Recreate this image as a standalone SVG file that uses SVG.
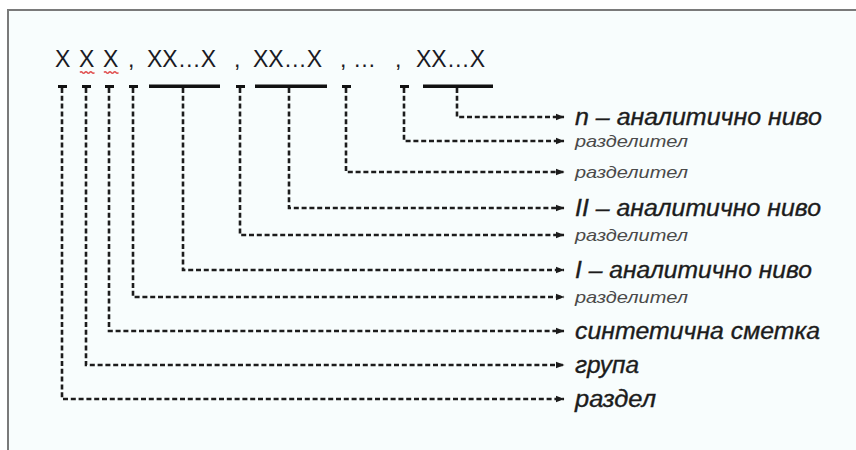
<svg xmlns="http://www.w3.org/2000/svg" width="856" height="450" viewBox="0 0 856 450">
  <defs>
    <marker id="arrow" markerUnits="userSpaceOnUse" markerWidth="10" markerHeight="9" refX="8.5" refY="4.5" orient="auto">
      <path d="M0,1 L9,4.5 L0,8 Z" fill="#1c1c1c"/>
    </marker>
    <style>
      .code { font-family: "Liberation Sans", Arial, sans-serif; font-size: 23px; fill: #1a1a24; }
      .bar { fill: #111; }
      .link { fill: none; stroke: #1c1c1c; stroke-width: 2.6; stroke-dasharray: 5 2.8; marker-end: url(#arrow); }
      .lvl { font-family: "Liberation Sans", Arial, sans-serif; font-style: italic; font-size: 23px; fill: #1c1c1c; stroke: #1c1c1c; stroke-width: 0.35; }
      .sep { font-family: "Liberation Sans", Arial, sans-serif; font-style: italic; font-size: 17px; fill: #4a4a4a; }
      .squiggle { fill: none; stroke: #e05050; stroke-width: 1.5; }
    </style>
  </defs>

  <!-- page and frame -->
  <rect x="0" y="0" width="856" height="450" fill="#ffffff"/>
  <rect x="8" y="10" width="848" height="440" fill="#f8fdfd"/>
  <path d="M8,450 V10 H856" fill="none" stroke="#7a7a7a" stroke-width="2"/>

  <!-- account code string -->
  <g id="code">
    <text class="code" x="55" y="67">X</text>
    <text class="code" x="79" y="67">X</text>
    <text class="code" x="103" y="67">X</text>
    <text class="code" x="128" y="67">,</text>
    <text class="code" x="147" y="67">XX…X</text>
    <text class="code" x="234" y="67">,</text>
    <text class="code" x="253" y="67">XX…X</text>
    <text class="code" x="340" y="67">,</text>
    <text class="code" x="353" y="67" textLength="26" lengthAdjust="spacing">…</text>
    <text class="code" x="395" y="67">,</text>
    <text class="code" x="416" y="67">XX…X</text>
    <path class="squiggle" d="M80,72.5 q1.2,-1.6 2.4,0 t2.4,0 t2.4,0 t2.4,0 t2.4,0 t2.4,0"/>
    <path class="squiggle" d="M104,72.5 q1.2,-1.6 2.4,0 t2.4,0 t2.4,0 t2.4,0 t2.4,0 t2.4,0"/>
  </g>

  <!-- position markers under the code -->
  <g id="markers">
    <rect class="bar" x="58" y="85" width="9" height="3"/>
    <rect class="bar" x="82" y="85" width="9" height="3"/>
    <rect class="bar" x="105" y="85" width="9" height="3"/>
    <rect class="bar" x="129" y="85" width="9" height="3"/>
    <rect class="bar" x="149" y="84.5" width="71" height="3.5"/>
    <rect class="bar" x="236" y="85" width="9" height="3"/>
    <rect class="bar" x="255" y="84.5" width="72" height="3.5"/>
    <rect class="bar" x="342" y="85" width="9" height="3"/>
    <rect class="bar" x="400" y="85" width="9" height="3"/>
    <rect class="bar" x="423" y="84.5" width="70" height="3.5"/>
  </g>

  <!-- connectors from each position to its label -->
  <g id="connectors">
    <path class="link" d="M457,88 V117 H564"/>
    <path class="link" d="M404,88 V141 H564"/>
    <path class="link" d="M346,88 V172 H564"/>
    <path class="link" d="M289,88 V208 H564"/>
    <path class="link" d="M240,88 V235 H564"/>
    <path class="link" d="M183,88 V270 H564"/>
    <path class="link" d="M133,88 V297 H564"/>
    <path class="link" d="M109,88 V331 H564"/>
    <path class="link" d="M86,88 V365 H564"/>
    <path class="link" d="M62,88 V399 H564"/>
  </g>

  <!-- labels -->
  <g id="label-n"><text class="lvl" x="575" y="125" textLength="247" lengthAdjust="spacingAndGlyphs">n – аналитично ниво</text></g>
  <g id="label-sep4"><text class="sep" x="575" y="147" textLength="113" lengthAdjust="spacingAndGlyphs">разделител</text></g>
  <g id="label-sep3"><text class="sep" x="575" y="178" textLength="113" lengthAdjust="spacingAndGlyphs">разделител</text></g>
  <g id="label-II"><text class="lvl" x="575" y="216" textLength="246" lengthAdjust="spacingAndGlyphs">II – аналитично ниво</text></g>
  <g id="label-sep2"><text class="sep" x="575" y="241" textLength="113" lengthAdjust="spacingAndGlyphs">разделител</text></g>
  <g id="label-I"><text class="lvl" x="575" y="278" textLength="237" lengthAdjust="spacingAndGlyphs">I – аналитично ниво</text></g>
  <g id="label-sep1"><text class="sep" x="575" y="303" textLength="113" lengthAdjust="spacingAndGlyphs">разделител</text></g>
  <g id="label-account"><text class="lvl" x="575" y="339" textLength="245" lengthAdjust="spacingAndGlyphs">синтетична сметка</text></g>
  <g id="label-group"><text class="lvl" x="575" y="373" textLength="64" lengthAdjust="spacingAndGlyphs">група</text></g>
  <g id="label-section"><text class="lvl" x="575" y="407" textLength="81" lengthAdjust="spacingAndGlyphs">раздел</text></g>
</svg>
